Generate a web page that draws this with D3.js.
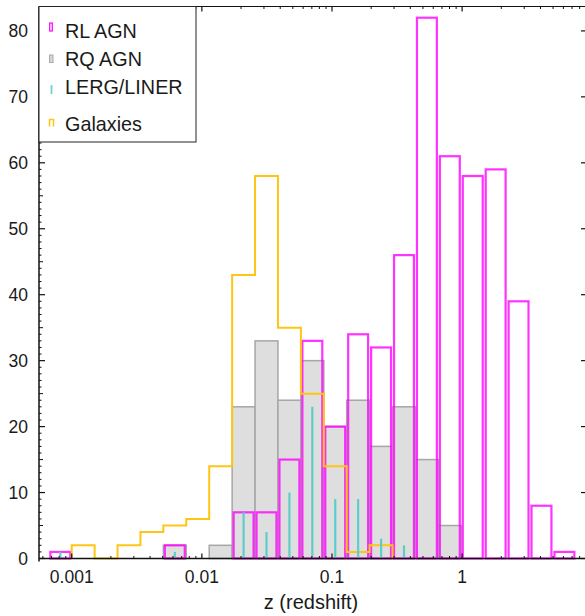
<!DOCTYPE html>
<html><head><meta charset="utf-8">
<script src="https://cdn.jsdelivr.net/npm/d3@7"></script>
<style>body{margin:0;background:#fff}svg{display:block}text{font-family:"Liberation Sans",Arial,sans-serif;fill:#1a1a1a}</style>
</head><body>
<script>
// Histogram bin edges (log-spaced redshift bins)
const binEdges = [0.000667, 0.001, 0.0015, 0.00225, 0.003375, 0.00506, 0.00759, 0.01139, 0.01709, 0.02563, 0.03844, 0.05767, 0.0865, 0.1297, 0.1946, 0.2919, 0.4379, 0.6568, 0.9853, 1.478, 2.217, 3.325, 4.988, 7.482];
const rlAGN    = [1,0,0,0,0,2,0,0,7,7,15,33,20,34,32,46,82,61,58,59,39,8,1];
const rqAGN    = [0,0,0,0,0,2,0,2,23,33,24,30,20,24,17,23,15,5,0,0,0,0,0];
const lergLiner= [1,0,0,0,0,1,0,0,7,4,10,23,9,9,3,2,0,0,0,0,0,0,0];
const galaxies = [0,2,0,2,4,5,6,14,43,58,35,25,14,1,2,0,0,0,0,0,0,0,0];
const xTicks = [0.001, 0.01, 0.1, 1];
const xTickLabels = ["0.001","0.01","0.1","1"];
const yTicks = [0,10,20,30,40,50,60,70,80];
const legendLabels = ["RL AGN","RQ AGN","LERG/LINER","Galaxies"];

const W=585,H=616;
const L=39,R=586,T=6.5,B=558.5;
const svg=d3.select("body").append("svg").attr("width",W).attr("height",H);
const x=d3.scaleLog().domain([Math.pow(10,-3.2515),Math.pow(10,0.952)]).range([L,R]);
const y=d3.scaleLinear().domain([0,83.7]).range([B,T]);

const bins=d3.range(rlAGN.length).map(i=>({x0:binEdges[i],x1:binEdges[i+1],i}));

// RQ AGN gray filled bars
svg.append("g").selectAll("rect").data(bins.filter(b=>rqAGN[b.i]>0)).join("rect")
  .attr("x",b=>x(b.x0)).attr("width",b=>x(b.x1)-x(b.x0))
  .attr("y",b=>y(rqAGN[b.i])).attr("height",b=>y(0)-y(rqAGN[b.i]))
  .attr("fill","#dedede").attr("stroke","#a6a6a6").attr("stroke-width",1.5);

// RL AGN open magenta bars
svg.append("g").selectAll("rect").data(bins.filter(b=>rlAGN[b.i]>0)).join("rect")
  .attr("x",b=>x(b.x0)+1.5).attr("width",b=>x(b.x1)-x(b.x0)-3)
  .attr("y",b=>y(rlAGN[b.i])).attr("height",b=>y(0)-y(rlAGN[b.i]))
  .attr("fill","none").attr("stroke","#ff00ff").attr("stroke-opacity",0.8).attr("stroke-width",2.2);

// Galaxies step outline
const gPts=[];
const gIdx=bins.filter(b=>galaxies[b.i]>0).map(b=>b.i);
const gFirst=d3.min(gIdx), gLast=d3.max(gIdx);
gPts.push([binEdges[gFirst],0]);
for(let i=gFirst;i<=gLast;i++){gPts.push([binEdges[i],galaxies[i]]);gPts.push([binEdges[i+1],galaxies[i]]);}
gPts.push([binEdges[gLast+1],0]);
svg.append("path").datum(gPts)
  .attr("d",d3.line().x(d=>x(d[0])).y(d=>y(d[1])))
  .attr("fill","none").attr("stroke","#ffc514").attr("stroke-width",2).attr("stroke-linejoin","miter");

// LERG/LINER needles at bin centres
svg.append("g").selectAll("line").data(bins.filter(b=>lergLiner[b.i]>0)).join("line")
  .attr("x1",b=>(x(b.x0)+x(b.x1))/2).attr("x2",b=>(x(b.x0)+x(b.x1))/2)
  .attr("y1",y(0)).attr("y2",b=>y(lergLiner[b.i]))
  .attr("stroke","#5fcccc").attr("stroke-width",2.2);

// Axes / frame
const minorX=[];
[0.0001,0.001,0.01,0.1,1].forEach(d=>{for(let k=2;k<=9;k++){const v=d*k;if(x(v)>=L&&x(v)<=R)minorX.push(v);}});
const minorY=d3.range(0,84).filter(v=>v%10!==0);
const ax=svg.append("g").attr("stroke","#111");
ax.append("line").attr("x1",L).attr("x2",R).attr("y1",B).attr("y2",B).attr("stroke-width",1.5);
ax.append("line").attr("x1",L).attr("x2",R).attr("y1",T).attr("y2",T).attr("stroke-width",1.2);
ax.append("line").attr("x1",L).attr("x2",L).attr("y1",T).attr("y2",B+3).attr("stroke-width",1.5);
// bottom & top ticks
xTicks.forEach(v=>{
  ax.append("line").attr("x1",x(v)).attr("x2",x(v)).attr("y1",B).attr("y2",B-5).attr("stroke-width",1.2);
  ax.append("line").attr("x1",x(v)).attr("x2",x(v)).attr("y1",T).attr("y2",T+5).attr("stroke-width",1.2);
});
minorX.forEach(v=>{
  ax.append("line").attr("x1",x(v)).attr("x2",x(v)).attr("y1",B).attr("y2",B-2.5).attr("stroke-width",1);
  ax.append("line").attr("x1",x(v)).attr("x2",x(v)).attr("y1",T).attr("y2",T+2.5).attr("stroke-width",1);
});
// left & right ticks
yTicks.forEach(v=>{
  ax.append("line").attr("x1",L).attr("x2",L+6).attr("y1",y(v)).attr("y2",y(v)).attr("stroke-width",1.2);
  ax.append("line").attr("x1",R).attr("x2",R-5).attr("y1",y(v)).attr("y2",y(v)).attr("stroke-width",1.2);
});
minorY.forEach(v=>{
  ax.append("line").attr("x1",L).attr("x2",L+(v%5===0?4:2.5)).attr("y1",y(v)).attr("y2",y(v)).attr("stroke-width",1);
});
// tick labels
svg.append("g").selectAll("text").data(yTicks).join("text")
  .attr("x",28).attr("y",v=>y(v)).attr("dy","0.36em").attr("text-anchor","end")
  .style("font-size","17.5px").text(v=>v);
svg.append("g").selectAll("text").data(xTicks).join("text")
  .attr("x",v=>x(v)).attr("y",583).attr("text-anchor","middle")
  .style("font-size","17.5px").text((v,i)=>xTickLabels[i]);
svg.append("text").attr("x",311).attr("y",609).attr("text-anchor","middle")
  .style("font-size","20px").text("z (redshift)");

// Legend
const lg=svg.append("g");
lg.append("rect").attr("x",L).attr("y",T).attr("width",196-L).attr("height",142-T)
  .attr("fill","#fff").attr("stroke","#222").attr("stroke-width",1);
const ly=[37.7,65.7,94,131];
lg.append("rect").attr("x",49.7).attr("y",23).attr("width",2.6).attr("height",8).attr("fill","none").attr("stroke","#ff00ff").attr("stroke-width",1.2);
lg.append("rect").attr("x",49.5).attr("y",55).attr("width",3.5).attr("height",7.5).attr("fill","#d6d6d6").attr("stroke","#aaa").attr("stroke-width",1);
lg.append("line").attr("x1",51.5).attr("x2",51.5).attr("y1",85).attr("y2",94).attr("stroke","#6fd3d3").attr("stroke-width",1.8);
lg.append("path").attr("d","M49.5,126.5V119.5H53.5V126.5").attr("fill","none").attr("stroke","#ffc514").attr("stroke-width",1.5);
lg.selectAll("text.l").data(legendLabels).join("text").attr("class","l")
  .attr("x",65).attr("y",(d,i)=>ly[i]).style("font-size","19.8px").text(d=>d);
</script>
</body></html>
